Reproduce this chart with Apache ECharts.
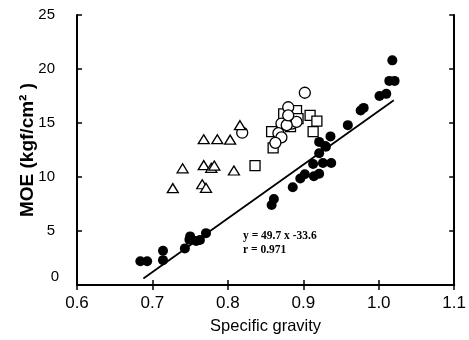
<!DOCTYPE html>
<html><head><meta charset="utf-8">
<script src="https://cdn.jsdelivr.net/npm/echarts@6/dist/echarts.min.js"></script>
<style>html,body{margin:0;padding:0;background:#fff}#c{width:469px;height:340px}</style>
</head><body><div id="c"></div>
<script>
var xTicks = [0.6, 0.7, 0.8, 0.9, 1.0, 1.1];
var yTicks = [0, 5, 10, 15, 20, 25];
var filledCircles = [
  [0.684,2.2],[0.693,2.2],[0.714,3.17],[0.714,2.3],[0.743,3.39],[0.750,4.5],[0.749,4.2],[0.758,4.08],[0.763,4.17],[0.771,4.8],
  [0.858,7.4],[0.861,7.97],[0.886,9.05],[0.896,9.86],[0.902,10.25],[0.914,10.07],[0.921,10.3],[0.913,11.2],[0.926,11.3],[0.937,11.3],
  [0.921,12.2],[0.930,12.8],[0.921,13.25],[0.929,12.86],[0.936,13.76],[0.959,14.8],[0.976,16.15],[0.980,16.4],
  [1.001,17.5],[1.010,17.7],[1.014,18.9],[1.021,18.9],[1.018,20.8]
];
var openCircles = [
  [0.819,14.1],[0.902,17.8],[0.880,16.46],[0.871,14.95],[0.885,14.95],[0.891,15.1],[0.878,14.8],[0.867,14.06],[0.871,13.67],[0.863,13.16],[0.880,15.7]
];
var openTriangles = [
  [0.816,14.8],[0.768,13.5],[0.786,13.5],[0.803,13.46],[0.740,10.8],[0.768,11.1],[0.778,10.85],[0.782,11.06],[0.808,10.6],
  [0.727,8.97],[0.766,9.33],[0.771,9.0]
];
var openSquares = [
  [0.836,11.05],[0.858,14.2],[0.860,12.7],[0.874,15.85],[0.891,16.15],[0.883,14.66],[0.909,15.7],[0.918,15.17],[0.913,14.2],[0.893,15.4]
];
var fitLine = [[0.688,0.6],[1.02,17.1]];
var eqText = ['y = 49.7 x -33.6', 'r = 0.971'];

var chart = echarts.init(document.getElementById('c'));
var axLine = {lineStyle:{color:'#000',width:2}};
var ff = 'Liberation Sans, Arial, sans-serif';
var open = {color:'#fff',borderColor:'#000',borderWidth:1.3,opacity:1};
var tick = {inside:true,length:5,lineStyle:{color:'#000',width:1.5}};
chart.setOption({
  animation:false,
  backgroundColor:'#fff',
  grid:{left:77,right:9,top:15,bottom:47},
  xAxis:[{
    type:'value',min:0.6,max:1.1,interval:0.1,position:'bottom',
    axisLine:axLine,splitLine:{show:false},axisTick:tick,
    axisLabel:{margin:10,color:'#000',fontFamily:ff,fontSize:17,formatter:function(v){return v.toFixed(1);}},
    name:'Specific gravity',nameLocation:'middle',nameGap:33,nameMoveOverlap:false,
    nameTextStyle:{color:'#000',fontFamily:ff,fontSize:16.5}
  },{
    type:'value',min:0.6,max:1.1,interval:0.1,position:'top',
    axisLine:axLine,splitLine:{show:false},axisLabel:{show:false},axisTick:tick
  }],
  yAxis:[{
    type:'value',min:0,max:25,interval:5,position:'left',
    axisLine:axLine,splitLine:{show:false},axisTick:tick,
    axisLabel:{margin:22,color:'#000',fontFamily:ff,fontSize:15,
      formatter:function(v){return v===0?'{z|0}':String(v);},
      rich:{z:{fontFamily:ff,fontSize:15,color:'#000',padding:[0,-4,16,0]}}},
    name:'MOE (kgf/cm² )',nameLocation:'middle',nameGap:40,nameMoveOverlap:false,
    nameTextStyle:{color:'#000',fontFamily:ff,fontSize:19,fontWeight:'bold'}
  },{
    type:'value',min:0,max:25,interval:5,position:'right',
    axisLine:axLine,splitLine:{show:false},axisLabel:{show:false},axisTick:tick
  }],
  graphic:[{
    type:'text',left:243,top:229,
    style:{text:eqText.join('\n'),fill:'#000',font:'bold 11.5px "Liberation Serif", "Times New Roman", serif',lineHeight:14}
  }],
  series:[
    {type:'line',data:fitLine,symbol:'none',lineStyle:{color:'#000',width:1.8},z:1},
    {type:'scatter',data:openSquares,symbol:'rect',symbolSize:10,itemStyle:open,z:2},
    {type:'scatter',data:openCircles,symbol:'circle',symbolSize:11,itemStyle:open,z:3},
    {type:'scatter',data:openTriangles,symbol:'triangle',symbolSize:[11,9],itemStyle:open,z:3},
    {type:'scatter',data:filledCircles,symbol:'circle',symbolSize:10,itemStyle:{color:'#000',opacity:1},z:4}
  ]
});
</script></body></html>
